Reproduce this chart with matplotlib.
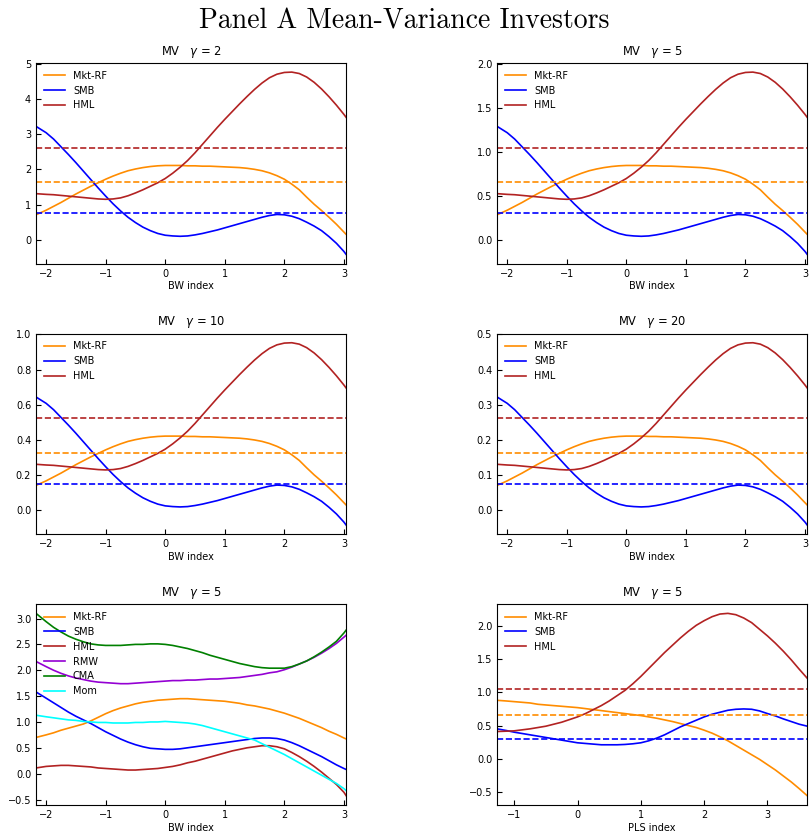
import numpy as np
import matplotlib
matplotlib.use('Agg')
import matplotlib.pyplot as plt

# BW index grid (values every 1/8)
bw_x = [-2.17, -2.0, -1.875, -1.75, -1.625, -1.5, -1.375, -1.25, -1.125, -1.0,
        -0.875, -0.75, -0.625, -0.5, -0.375, -0.25, -0.125, 0.0, 0.125, 0.25,
        0.375, 0.5, 0.625, 0.75, 0.875, 1.0, 1.125, 1.25, 1.375, 1.5,
        1.625, 1.75, 1.875, 2.0, 2.125, 2.25, 2.375, 2.5, 2.625, 2.75,
        2.875, 3.0, 3.04]

# gamma = 2 weights; mean-variance weights scale with 1/gamma, so the other
# three panels are these times 2/gamma
mkt_g2 = [0.71, 0.84, 0.95, 1.06, 1.18, 1.30, 1.41, 1.52, 1.62, 1.72,
          1.81, 1.89, 1.96, 2.01, 2.05, 2.08, 2.10, 2.11, 2.11, 2.11,
          2.10, 2.10, 2.09, 2.09, 2.08, 2.07, 2.06, 2.05, 2.03, 2.00,
          1.96, 1.90, 1.82, 1.72, 1.58, 1.42, 1.21, 1.01, 0.83, 0.64,
          0.44, 0.22, 0.15]
smb_g2 = [3.22, 3.04, 2.86, 2.64, 2.42, 2.19, 1.95, 1.71, 1.47, 1.24,
          1.02, 0.82, 0.64, 0.49, 0.36, 0.26, 0.18, 0.13, 0.11, 0.10,
          0.11, 0.14, 0.18, 0.23, 0.28, 0.34, 0.40, 0.46, 0.52, 0.58,
          0.64, 0.69, 0.72, 0.71, 0.67, 0.60, 0.50, 0.39, 0.26, 0.09,
          -0.10, -0.33, -0.42]
hml_g2 = [1.31, 1.29, 1.28, 1.26, 1.24, 1.22, 1.20, 1.18, 1.16, 1.15,
          1.16, 1.19, 1.25, 1.33, 1.42, 1.52, 1.62, 1.74, 1.89, 2.06,
          2.25, 2.47, 2.71, 2.95, 3.19, 3.42, 3.64, 3.86, 4.07, 4.27,
          4.45, 4.60, 4.70, 4.75, 4.76, 4.72, 4.62, 4.47, 4.28, 4.06,
          3.82, 3.56, 3.47]
avg_g2 = {'Mkt-RF': 1.64, 'SMB': 0.76, 'HML': 2.617}
gammas = [2, 5, 10, 20]

# six-factor panel, gamma = 5 (same BW grid)
mkt6 = [0.70, 0.75, 0.79, 0.84, 0.88, 0.92, 0.96, 1.02, 1.09, 1.16,
        1.22, 1.27, 1.31, 1.35, 1.38, 1.40, 1.42, 1.43, 1.44, 1.45,
        1.45, 1.44, 1.43, 1.42, 1.41, 1.40, 1.38, 1.36, 1.33, 1.31,
        1.28, 1.25, 1.21, 1.17, 1.12, 1.07, 1.01, 0.95, 0.89, 0.82,
        0.76, 0.69, 0.67]
smb6 = [1.58, 1.46, 1.37, 1.28, 1.19, 1.11, 1.04, 0.97, 0.89, 0.81,
        0.74, 0.67, 0.61, 0.56, 0.52, 0.49, 0.48, 0.47, 0.47, 0.48,
        0.50, 0.52, 0.54, 0.56, 0.58, 0.60, 0.62, 0.64, 0.66, 0.68,
        0.69, 0.69, 0.68, 0.65, 0.60, 0.54, 0.47, 0.40, 0.33, 0.25,
        0.17, 0.10, 0.08]
hml6 = [0.11, 0.14, 0.15, 0.16, 0.16, 0.15, 0.14, 0.13, 0.11, 0.10,
        0.09, 0.08, 0.07, 0.07, 0.08, 0.09, 0.10, 0.12, 0.14, 0.17,
        0.21, 0.24, 0.28, 0.32, 0.36, 0.40, 0.44, 0.47, 0.50, 0.52,
        0.54, 0.54, 0.52, 0.48, 0.41, 0.33, 0.24, 0.14, 0.03, -0.09,
        -0.21, -0.36, -0.43]
rmw6 = [2.17, 2.07, 2.00, 1.94, 1.89, 1.85, 1.82, 1.79, 1.77, 1.76,
        1.75, 1.74, 1.74, 1.75, 1.76, 1.77, 1.78, 1.79, 1.80, 1.80,
        1.81, 1.81, 1.82, 1.83, 1.83, 1.84, 1.85, 1.86, 1.88, 1.90,
        1.92, 1.95, 1.97, 2.01, 2.06, 2.12, 2.18, 2.25, 2.33, 2.42,
        2.52, 2.64, 2.68]
cma6 = [3.10, 2.94, 2.83, 2.74, 2.66, 2.60, 2.55, 2.51, 2.49, 2.48,
        2.48, 2.48, 2.49, 2.50, 2.50, 2.51, 2.51, 2.50, 2.48, 2.45,
        2.42, 2.38, 2.34, 2.29, 2.25, 2.21, 2.17, 2.13, 2.10, 2.07,
        2.05, 2.04, 2.04, 2.04, 2.07, 2.12, 2.18, 2.26, 2.35, 2.45,
        2.56, 2.72, 2.78]
mom6 = [1.13, 1.10, 1.08, 1.06, 1.04, 1.03, 1.01, 1.00, 0.99, 0.99,
        0.98, 0.98, 0.98, 0.99, 0.99, 1.00, 1.00, 1.01, 1.00, 0.99,
        0.98, 0.96, 0.93, 0.89, 0.85, 0.81, 0.77, 0.73, 0.69, 0.65,
        0.58, 0.51, 0.44, 0.37, 0.29, 0.21, 0.13, 0.05, -0.03, -0.11,
        -0.19, -0.29, -0.33]

# PLS index panel, gamma = 5
pls_x = [-1.27, -1.125, -1.0, -0.875, -0.75, -0.625, -0.5, -0.375, -0.25, -0.125,
         0.0, 0.125, 0.25, 0.375, 0.5, 0.625, 0.75, 0.875, 1.0, 1.125,
         1.25, 1.375, 1.5, 1.625, 1.75, 1.875, 2.0, 2.125, 2.25, 2.375,
         2.5, 2.625, 2.75, 2.875, 3.0, 3.125, 3.25, 3.375, 3.5, 3.63]
mkt_pls = [0.88, 0.87, 0.86, 0.85, 0.84, 0.82, 0.81, 0.80, 0.79, 0.78,
           0.77, 0.755, 0.74, 0.725, 0.71, 0.695, 0.68, 0.665, 0.65, 0.63,
           0.61, 0.585, 0.56, 0.53, 0.50, 0.47, 0.43, 0.385, 0.33, 0.27,
           0.20, 0.13, 0.06, -0.01, -0.09, -0.17, -0.26, -0.35, -0.45, -0.56]
smb_pls = [0.45, 0.425, 0.40, 0.38, 0.36, 0.34, 0.32, 0.30, 0.28, 0.26,
           0.24, 0.23, 0.22, 0.21, 0.21, 0.21, 0.215, 0.225, 0.24, 0.27,
           0.31, 0.36, 0.42, 0.48, 0.53, 0.58, 0.63, 0.67, 0.70, 0.73,
           0.745, 0.75, 0.745, 0.72, 0.68, 0.645, 0.60, 0.56, 0.52, 0.49]
hml_pls = [0.41, 0.415, 0.42, 0.435, 0.45, 0.47, 0.49, 0.52, 0.55, 0.59,
           0.63, 0.68, 0.74, 0.80, 0.87, 0.95, 1.03, 1.13, 1.24, 1.36,
           1.48, 1.60, 1.71, 1.82, 1.92, 2.01, 2.08, 2.14, 2.18, 2.19,
           2.17, 2.12, 2.05, 1.95, 1.85, 1.74, 1.62, 1.49, 1.35, 1.21]
avg_pls = {'Mkt-RF': 0.655, 'SMB': 0.30, 'HML': 1.045}

colors = {'Mkt-RF': 'darkorange', 'SMB': 'blue', 'HML': 'firebrick',
          'RMW': 'darkviolet', 'CMA': 'green', 'Mom': 'cyan'}

plt.rcParams['font.size'] = 7
plt.rcParams['xtick.direction'] = 'in'
plt.rcParams['ytick.direction'] = 'in'

fig, axes = plt.subplots(3, 2, figsize=(8.09, 8.33), dpi=100)
fig.subplots_adjust(left=0.0445, right=0.998, bottom=0.0336, top=0.9244,
                    wspace=0.486, hspace=0.348)
fig.suptitle('Panel A Mean-Variance Investors', fontsize=20, family='cmr10',
             y=0.99)


def finish(ax, xs, xlabel, gamma):
    ax.set_xlim(xs[0], xs[-1])
    ax.set_title(r'MV   $\gamma$ = %d' % gamma, fontsize=8.3)
    ax.set_xlabel(xlabel, labelpad=2)
    ax.legend(loc='upper left', frameon=False, fontsize=7, handlelength=2.2,
              borderaxespad=0.4)


for k, g in enumerate(gammas):
    ax = axes.flat[k]
    s = 2 / g
    for name, ys in [('Mkt-RF', mkt_g2), ('SMB', smb_g2), ('HML', hml_g2)]:
        ax.plot(bw_x, np.array(ys) * s, color=colors[name], lw=1.2, label=name)
    for name in ['Mkt-RF', 'SMB', 'HML']:
        ax.axhline(avg_g2[name] * s, color=colors[name], lw=1.2, ls='--')
    finish(ax, bw_x, 'BW index', g)

ax = axes[2, 0]
for name, ys in [('Mkt-RF', mkt6), ('SMB', smb6), ('HML', hml6),
                 ('RMW', rmw6), ('CMA', cma6), ('Mom', mom6)]:
    ax.plot(bw_x, ys, color=colors[name], lw=1.2, label=name)
finish(ax, bw_x, 'BW index', 5)

ax = axes[2, 1]
for name, ys in [('Mkt-RF', mkt_pls), ('SMB', smb_pls), ('HML', hml_pls)]:
    ax.plot(pls_x, ys, color=colors[name], lw=1.2, label=name)
for name in ['Mkt-RF', 'SMB', 'HML']:
    ax.axhline(avg_pls[name], color=colors[name], lw=1.2, ls='--')
finish(ax, pls_x, 'PLS index', 5)

fig.savefig('out.png', dpi=100)
